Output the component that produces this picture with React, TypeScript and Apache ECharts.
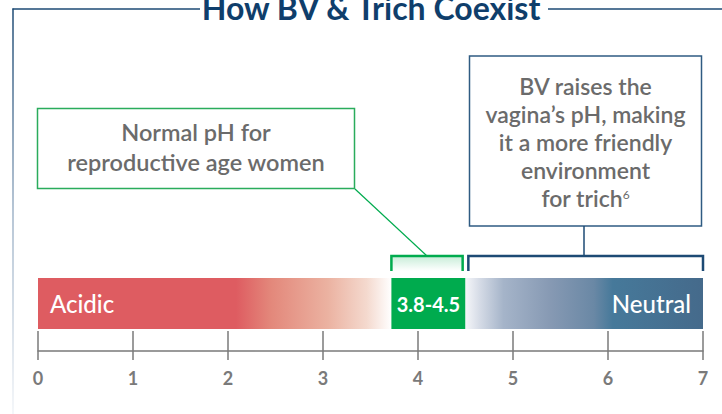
import React, { useEffect, useRef } from "react";
import * as echarts from "echarts";

// ---- data ----
const segmentNames = ["Acidic", "3.8-4.5", "Neutral"];
const segmentStart = [0, 3.72, 4.5];
const segmentEnd = [3.72, 4.5, 7];
const bracketStart = [3.72, 4.53];
const bracketEnd = [4.47, 7];
const tickValues = [0, 1, 2, 3, 4, 5, 6, 7];
const titleText = "How BV & Trich Coexist";
const noteLeft = ["Normal pH for", "reproductive age women"];
const noteRight = ["BV raises the", "vagina’s pH, making", "it a more friendly", "environment", "for trich{sup|6}"];

const NAVY = "#1d4a74";
const GREEN = "#00ab4e";
const FONT = "Lato, 'Noto Sans', sans-serif";

export default function App() {
  const ref = useRef<HTMLDivElement>(null);
  useEffect(() => {
    if (!ref.current) return;
    const chart = echarts.init(ref.current, undefined, { renderer: "svg" });
    const redGrad = new echarts.graphic.LinearGradient(0, 0, 1, 0, [
      { offset: 0, color: "#de5c61" },
      { offset: 0.56, color: "#de5c61" },
      { offset: 0.66, color: "#e3887b" },
      { offset: 0.82, color: "#ebb2a1" },
      { offset: 0.93, color: "#f4d9ce" },
      { offset: 1, color: "#ffffff" },
    ]);
    const blueGrad = new echarts.graphic.LinearGradient(0, 0, 1, 0, [
      { offset: 0, color: "#f5f6f9" },
      { offset: 0.06, color: "#d5dbe6" },
      { offset: 0.16, color: "#a5b4c9" },
      { offset: 0.36, color: "#8699b3" },
      { offset: 0.54, color: "#6a88a5" },
      { offset: 0.62, color: "#46799a" },
      { offset: 1, color: "#456a8b" },
    ]);
    const colors = [redGrad, GREEN, blueGrad];
    const labelPos = ["insideLeft", "inside", "insideRight"];
    const labelSize = [24, 20, 24];
    const labelWeight = [500, 700, 500];

    const barSeries = segmentNames.map((name, i) => ({
      type: "bar",
      name,
      stack: "ph",
      barWidth: 51,
      xAxisIndex: 0,
      data: [segmentEnd[i] - segmentStart[i]],
      itemStyle: { color: colors[i] },
      label: {
        show: true,
        position: labelPos[i],
        distance: 12,
        formatter: name,
        color: "#ffffff",
        fontFamily: FONT,
        fontSize: labelSize[i],
        fontWeight: labelWeight[i],
      },
      silent: true,
    }));

    const bracketColors = [GREEN, NAVY];
    const bracketSeries = {
      type: "custom",
      xAxisIndex: 0,
      data: bracketStart.map((s, i) => [s, bracketEnd[i], 0, i]),
      encode: { x: [0, 1], y: 2 },
      renderItem: (params: any, api: any) => {
        const idx = api.value(3);
        const p0 = api.coord([api.value(0), 0]);
        const p1 = api.coord([api.value(1), 0]);
        const top = params.coordSys.y;
        const leg = 15;
        const col = bracketColors[idx];
        const children: any[] = [];
        if (idx === 0) {
          children.push({
            type: "rect",
            shape: { x: p0[0], y: top, width: p1[0] - p0[0], height: leg },
            style: {
              fill: new echarts.graphic.LinearGradient(0, 0, 0, 1, [
                { offset: 0, color: "rgba(0,171,78,0.22)" },
                { offset: 1, color: "rgba(0,171,78,0)" },
              ]),
            },
          });
        }
        children.push({
          type: "polyline",
          shape: {
            points: [
              [p0[0], top + leg],
              [p0[0], top],
              [p1[0], top],
              [p1[0], top + leg],
            ],
          },
          style: { stroke: col, lineWidth: 2.5, fill: "none" },
        });
        return { type: "group", children };
      },
      silent: true,
      z: 5,
    };

    const option: any = {
      animation: false,
      grid: { left: 38, right: 19, top: 256, bottom: 63 },
      xAxis: [
        {
          type: "value",
          min: 0,
          max: 7,
          interval: 1,
          position: "bottom",
          axisLine: { show: true, lineStyle: { color: "#7a7a7a", width: 1.5 } },
          axisTick: { show: true, length: 9, lineStyle: { color: "#7a7a7a", width: 1.5 } },
          axisLabel: {
            show: true,
            margin: 18,
            color: "#7a7a7a",
            fontFamily: FONT,
            fontSize: 18,
            fontWeight: 700,
            customValues: tickValues,
          },
          splitLine: { show: false },
        },
        {
          type: "value",
          min: 0,
          max: 7,
          interval: 1,
          position: "bottom",
          axisLine: { show: false },
          axisTick: { show: true, inside: true, length: 20, lineStyle: { color: "#7a7a7a", width: 1.5 } },
          axisLabel: { show: false },
          splitLine: { show: false },
        },
      ],
      yAxis: {
        type: "category",
        data: ["pH"],
        show: false,
      },
      series: [...barSeries, bracketSeries],
      graphic: [
        // frame
        {
          type: "rect",
          shape: { x: 12.25, y: 8.5, width: 1.5, height: 406 },
          style: {
            fill: new echarts.graphic.LinearGradient(0, 0, 0, 1, [
              { offset: 0, color: NAVY },
              { offset: 0.5, color: "#9fb3c8" },
              { offset: 1, color: "#f1f4f8" },
            ]),
          },
          silent: true,
        },
        { type: "line", shape: { x1: 12.5, y1: 9, x2: 200, y2: 9 }, style: { stroke: NAVY, lineWidth: 1.5 }, silent: true },
        { type: "line", shape: { x1: 548, y1: 9, x2: 722, y2: 9 }, style: { stroke: NAVY, lineWidth: 1.5 }, silent: true },
        {
          type: "text",
          x: 371,
          y: 7,
          style: {
            text: titleText,
            fill: "#0f3e6b",
            font: `700 32px ${FONT}`,
            align: "center",
            verticalAlign: "middle",
          },
          silent: true,
        },
        // left note
        {
          type: "rect",
          shape: { x: 37.5, y: 108.5, width: 317, height: 80 },
          style: { fill: "#ffffff", stroke: "#2aac5c", lineWidth: 1.5 },
          silent: true,
        },
        {
          type: "text",
          x: 196,
          y: 147,
          style: {
            text: noteLeft.join("\n"),
            fill: "#6b6b6b",
            font: `600 23.5px ${FONT}`,
            lineHeight: 29.5,
            align: "center",
            verticalAlign: "middle",
          },
          silent: true,
        },
        { type: "line", shape: { x1: 355, y1: 189, x2: 427, y2: 256 }, style: { stroke: GREEN, lineWidth: 1.2 }, silent: true },
        // right note
        {
          type: "rect",
          shape: { x: 469.5, y: 56, width: 232, height: 170 },
          style: { fill: "#ffffff", stroke: "#2f5b82", lineWidth: 1.5 },
          silent: true,
        },
        {
          type: "text",
          x: 585.5,
          y: 142,
          style: {
            text: noteRight.join("\n"),
            fill: "#6b6b6b",
            font: `600 23px ${FONT}`,
            lineHeight: 28,
            align: "center",
            verticalAlign: "middle",
            rich: {
              sup: { fontSize: 12, fontFamily: FONT, fill: "#6b6b6b", verticalAlign: "top", lineHeight: 28, padding: [4, 0, 0, 0] },
            },
          },
          silent: true,
        },
        { type: "line", shape: { x1: 584, y1: 226, x2: 584, y2: 256 }, style: { stroke: NAVY, lineWidth: 1.5 }, silent: true },
      ],
    };
    chart.setOption(option);
    return () => chart.dispose();
  }, []);
  return (
    <div
      ref={ref}
      style={{ position: "fixed", left: 0, top: 0, width: 722, height: 414, background: "#ffffff" }}
    />
  );
}
